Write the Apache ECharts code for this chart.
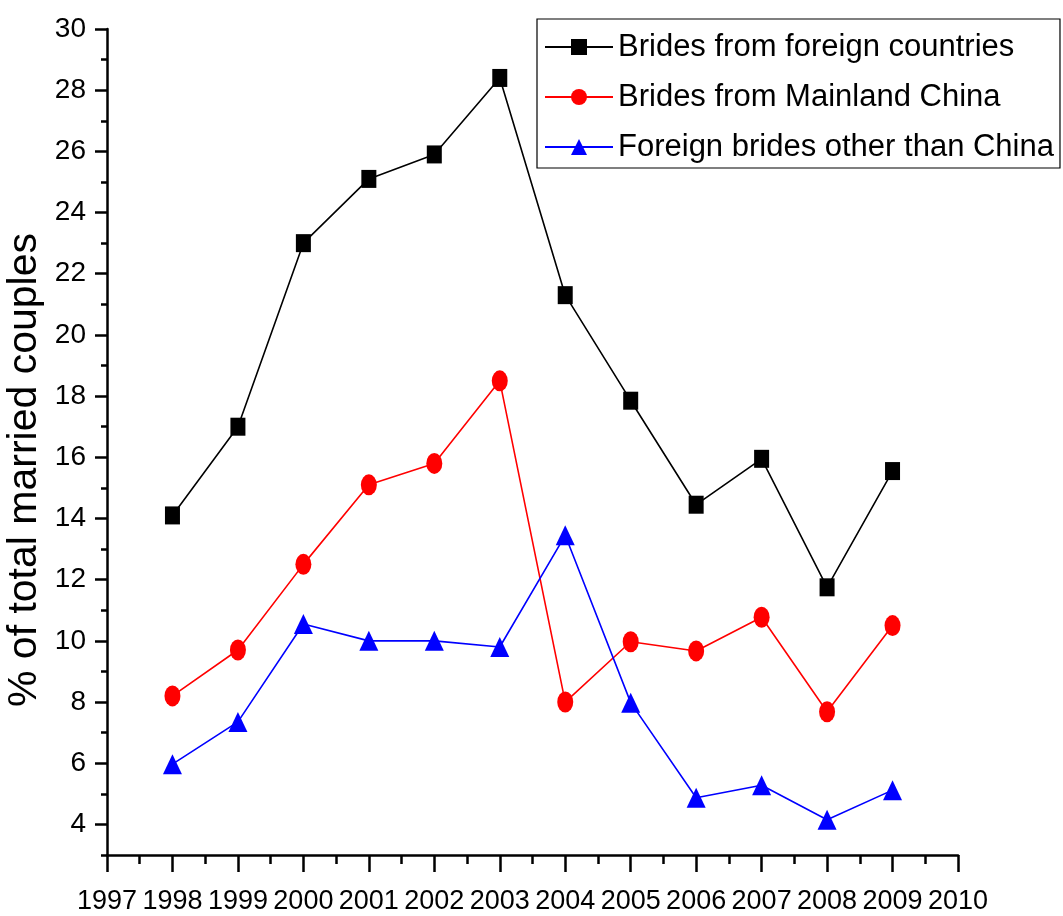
<!DOCTYPE html>
<html>
<head>
<meta charset="utf-8">
<script src="https://cdn.jsdelivr.net/npm/echarts@6/dist/echarts.min.js"></script>
<style>
html,body{margin:0;padding:0;background:#fff;}
#chart{width:1063px;height:916px;}
</style>
</head>
<body>
<div id="chart"></div>
<script>
var years = [1998, 1999, 2000, 2001, 2002, 2003, 2004, 2005, 2006, 2007, 2008, 2009];
var foreignBrides = [14.1, 17.0, 23.0, 25.1, 25.9, 28.4, 21.3, 17.85, 14.45, 15.95, 11.75, 15.55];
var mainlandBrides = [8.2, 9.7, 12.5, 15.1, 15.8, 18.5, 8.0, 9.97, 9.67, 10.77, 7.68, 10.5];
var otherBrides = [5.97, 7.35, 10.55, 10.0, 10.0, 9.8, 13.45, 7.98, 4.87, 5.28, 4.15, 5.12];
var seriesNames = ['Brides from foreign countries', 'Brides from Mainland China', 'Foreign brides other than China'];
var yMajorTicks = [4, 6, 8, 10, 12, 14, 16, 18, 20, 22, 24, 26, 28, 30];
var yMinorTicks = [3, 5, 7, 9, 11, 13, 15, 17, 19, 21, 23, 25, 27, 29];
var yTitle = '% of total married couples';

function pairs(vals) { return years.map(function (y, i) { return [y, vals[i]]; }); }

var tickFont = "'Liberation Sans', Arial, sans-serif";
var chart = echarts.init(document.getElementById('chart'), null, {renderer: 'canvas'});
chart.setOption({
  animation: false,
  backgroundColor: '#fff',
  grid: {left: 107, right: 105, top: 29, bottom: 61, containLabel: false, outerBoundsMode: 'none'},
  legend: {
    orient: 'vertical', left: 537, top: 19,
    borderColor: '#000', borderWidth: 1.2,
    padding: [11, 6, 4, 7],
    itemWidth: 68, itemHeight: 20, itemGap: 16,
    textStyle: {fontSize: 31, fontFamily: 'Liberation Sans', color: '#000', lineHeight: 34},
    data: seriesNames
  },
  xAxis: {
    type: 'value', min: 1997, max: 2010, interval: 1,
    axisLine: {lineStyle: {color: '#000', width: 2.5}},
    axisTick: {length: 17, lineStyle: {color: '#000', width: 2.5}},
    minorTick: {show: true, splitNumber: 2, length: 9, lineStyle: {color: '#000', width: 2.5}},
    splitLine: {show: false},
    axisLabel: {color: '#000', fontSize: 27, fontFamily: tickFont, margin: 33, hideOverlap: false,
      showMinLabel: true, showMaxLabel: true, formatter: function (v) { return String(v); }}
  },
  yAxis: [{
    type: 'value', min: 3, max: 30,
    name: yTitle, nameLocation: 'middle', nameRotate: 90, nameGap: 62, nameMoveOverlap: false,
    nameTextStyle: {fontSize: 41, fontFamily: 'Liberation Sans', color: '#000', padding: [0, 56, 0, 0]},
    axisLine: {show: true, lineStyle: {color: '#000', width: 2.5}},
    axisTick: {length: 12, customValues: yMajorTicks, lineStyle: {color: '#000', width: 2.5}},
    splitLine: {show: false},
    axisLabel: {color: '#000', fontSize: 28, fontFamily: tickFont, margin: 21, customValues: yMajorTicks}
  }, {
    type: 'value', min: 3, max: 30, position: 'left', offset: 0,
    axisLine: {show: false},
    axisTick: {show: true, length: 6, customValues: yMinorTicks, lineStyle: {color: '#000', width: 2.5}},
    axisLabel: {show: false, customValues: yMinorTicks},
    splitLine: {show: false}
  }],
  series: [{
    name: seriesNames[0], type: 'line', data: pairs(foreignBrides),
    symbol: 'rect', symbolSize: [15, 18],
    itemStyle: {color: '#000'}, lineStyle: {color: '#000', width: 1.6}
  }, {
    name: seriesNames[1], type: 'line', data: pairs(mainlandBrides),
    symbol: 'circle', symbolSize: [16, 21],
    itemStyle: {color: '#ff0000'}, lineStyle: {color: '#ff0000', width: 1.6}
  }, {
    name: seriesNames[2], type: 'line', data: pairs(otherBrides),
    symbol: 'triangle', symbolSize: [19, 20],
    itemStyle: {color: '#0000ff'}, lineStyle: {color: '#0000ff', width: 1.6}
  }]
});
</script>
</body>
</html>
